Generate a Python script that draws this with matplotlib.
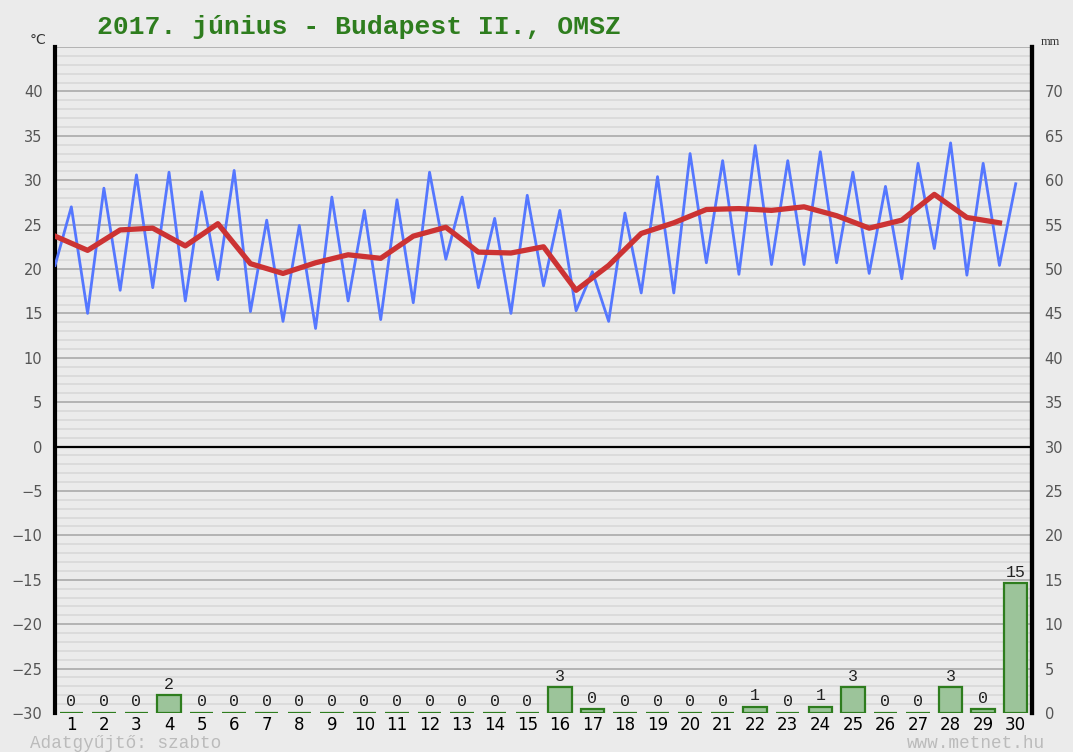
import matplotlib.pyplot as plt
import numpy as np

days = np.arange(1, 31)
day_labels = [str(d) for d in days]

# night minimum (start of day) and daytime maximum, degrees C
t_min = [20.4, 15.0, 17.6, 17.9, 16.4, 18.8, 15.2, 14.1, 13.3, 16.4,
         14.3, 16.2, 21.1, 17.9, 15.0, 18.1, 15.3, 14.1, 17.3, 17.3,
         20.7, 19.4, 20.5, 20.5, 20.7, 19.5, 18.9, 22.3, 19.3, 20.4]
t_max = [27.0, 29.1, 30.6, 30.9, 28.7, 31.1, 25.5, 24.9, 28.1, 26.6,
         27.8, 30.9, 28.1, 25.7, 28.3, 26.6, 19.7, 26.3, 30.4, 33.0,
         32.2, 33.9, 32.2, 33.2, 30.9, 29.3, 31.9, 34.2, 31.9, 29.6]
# daily mean
t_mean = [23.7, 22.1, 24.4, 24.6, 22.6, 25.1, 20.6, 19.5, 20.7, 21.6,
          21.2, 23.7, 24.7, 21.9, 21.8, 22.5, 17.6, 20.4, 24.0, 25.2,
          26.7, 26.8, 26.6, 27.0, 26.0, 24.6, 25.5, 28.4, 25.8, 25.2]
# precipitation, mm
rain = [0, 0, 0, 2.0, 0, 0, 0, 0, 0, 0,
        0, 0, 0, 0, 0, 2.9, 0.4, 0, 0, 0,
        0, 0.7, 0, 0.7, 2.9, 0, 0, 2.9, 0.4, 14.6]

bg = '#ebebeb'
green = '#2e7d1e'

fig = plt.figure(figsize=(10.73, 7.52), dpi=100, facecolor=bg)
ax = fig.add_axes([0.0513, 0.0519, 0.9105, 0.8856], facecolor=bg)
ax2 = ax.twinx()

ax.set_ylim(-30, 45)
ax.set_xlim(0.5, 30.5)
ax2.set_ylim(0, 75)

# grid drawn on the mm axis (mm = degC + 30), which sits underneath
for v in np.arange(1, 75, 1):
    if v % 5 == 0:
        continue
    ax2.axhline(v, color='#dadada', lw=1.3, zorder=0)
for v in np.arange(5, 76, 5):
    ax2.axhline(v, color='#a4a4a4', lw=1.1, zorder=0.5)
ax2.axhline(30, color='black', lw=1.6, zorder=1)

# precipitation
ax2.bar(days, rain, width=0.72, color='#9cc49a', edgecolor=green,
        linewidth=1.6, zorder=2)
for d, r in zip(days, rain):
    ax2.text(d, r + 0.4, f'{r:.0f}', ha='center', va='bottom',
             fontsize=12, family='Liberation Mono', color='#222222', zorder=3)
ax2.set_yticks(np.arange(0, 71, 5))
ax2.tick_params(axis='y', length=0, pad=9, labelsize=10.5, labelcolor='#555555')
for s in ['top', 'bottom', 'left']:
    ax2.spines[s].set_visible(False)
ax2.spines['right'].set_linewidth(3)

# temperature on top
xb = np.empty(60)
yb = np.empty(60)
xb[0::2] = days - 0.5
xb[1::2] = days
yb[0::2] = t_min
yb[1::2] = t_max
ax.plot(xb, yb, color='#5577ff', lw=2.0, zorder=3)
ax.plot(days - 0.5, t_mean, color='#cc3333', lw=3.8, zorder=4,
        solid_joinstyle='round')

ax.set_yticks(np.arange(-30, 41, 5))
ax.tick_params(axis='y', length=0, pad=9, labelsize=10.5, labelcolor='#555555')
ax.set_xticks(days)
ax.set_xticklabels(day_labels)
ax.tick_params(axis='x', length=0, pad=2, labelsize=12, labelcolor='black')
for s in ['top', 'bottom']:
    ax.spines[s].set_visible(False)
ax.spines['left'].set_linewidth(3)
ax.spines['right'].set_linewidth(3)

ax.set_zorder(ax2.get_zorder() + 1)
ax.patch.set_visible(False)
ax2.patch.set_facecolor(bg)

# texts
fig.text(97 / 1073, 1 - 27 / 752, '2017. június - Budapest II., OMSZ',
         fontsize=19, family='Liberation Mono', weight='bold',
         color=green, va='center', ha='left')
fig.text(38 / 1073, 1 - 40 / 752, '°C', fontsize=10, color='#333333',
         ha='center', va='center')
fig.text(1050 / 1073, 1 - 42 / 752, 'mm', fontsize=9, family='Liberation Serif',
         color='#333333', ha='center', va='center')
fig.text(30 / 1073, 1 - 743 / 752, 'Adatgyűjtő: szabto', fontsize=12.7,
         family='Liberation Mono', color='#bbbbbb', ha='left', va='center')
fig.text(1045 / 1073, 1 - 743 / 752, 'www.metnet.hu', fontsize=12.7,
         family='Liberation Mono', color='#bbbbbb', ha='right', va='center')

fig.savefig('out.png', dpi=100, facecolor=bg)
